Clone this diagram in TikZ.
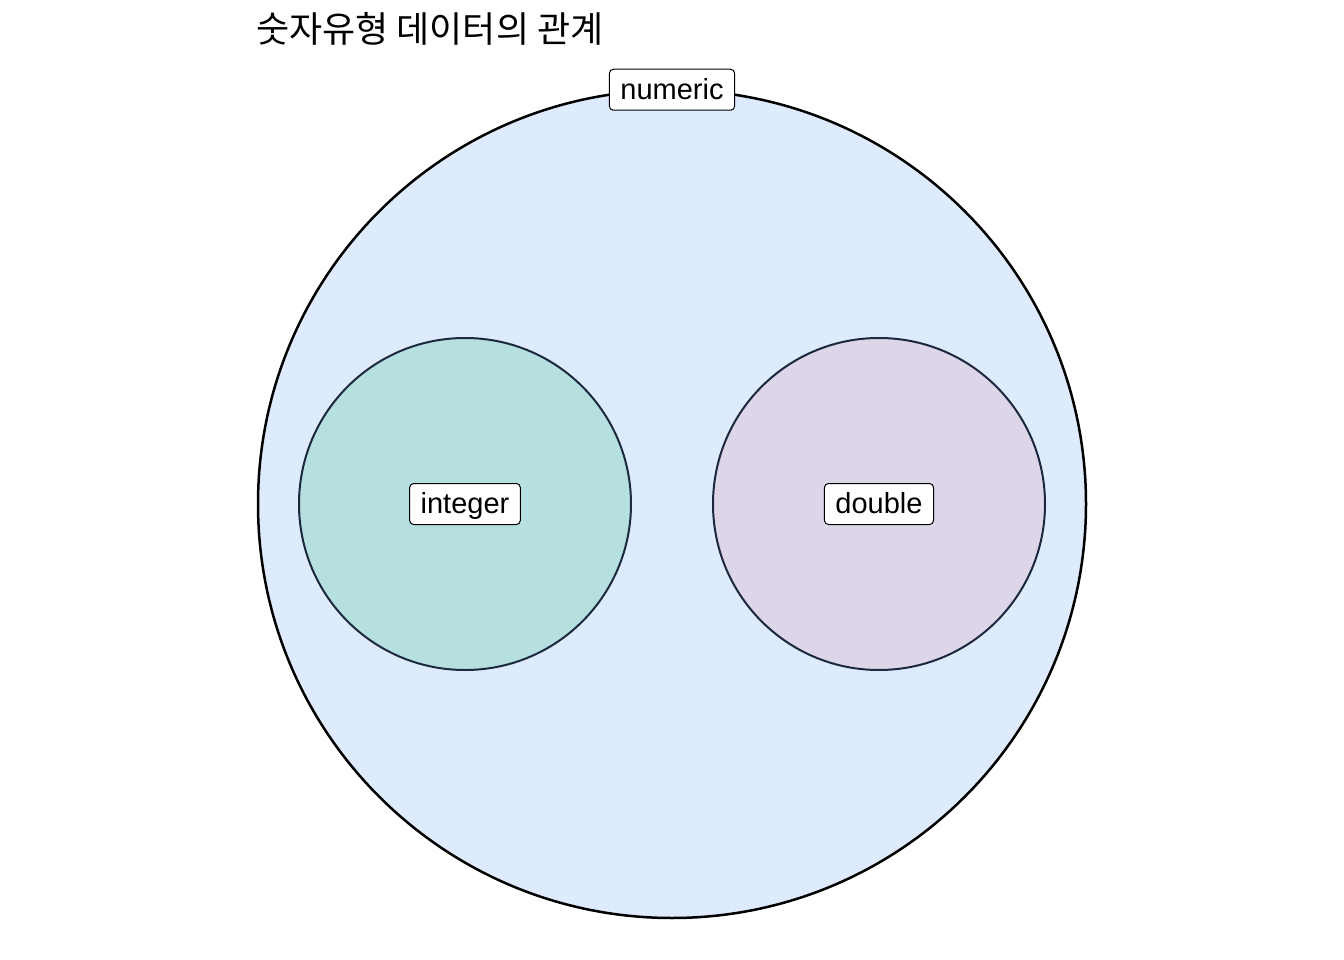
\documentclass[tikz,border=0pt]{standalone}
\usepackage{fontspec}
\setmainfont{Liberation Sans}
\newfontfamily\kofont{Noto Sans CJK KR}
\usepackage{xcolor}
\definecolor{numfill}{RGB}{222,234,254}
\definecolor{intfill}{RGB}{182,224,224}
\definecolor{dblfill}{RGB}{221,213,232}
\definecolor{setline}{RGB}{27,40,62}

\tikzset{
  setcircle/.style={draw=setline, line width=2pt, circle, inner sep=0pt, minimum size=332pt},
  lbl/.style={draw, fill=white, rounded corners=4pt, line width=1pt, inner xsep=11pt,
    inner ysep=0pt, minimum height=41pt, text height=23pt, text depth=4pt,
    font=\fontsize{29}{33}\selectfont}
}

\begin{document}
\begin{tikzpicture}[x=1pt, y=-1pt]
    \useasboundingbox (0,0) rectangle (1344,960);

    \node[anchor=base west, inner sep=0pt, font=\kofont\fontsize{36}{40}\selectfont] (T) at (256,43) {숫자유형 데이터의 관계};

    \node[draw=black, line width=2.5pt, circle, inner sep=0pt, minimum size=828pt, fill=numfill] (N) at (672,504) {};
    \node[setcircle, fill=intfill] (I) at (465,504) {};
    \node[setcircle, fill=dblfill] (D) at (879,504) {};

    \node[lbl] (nlab) at ([yshift=-1pt]N.north) {numeric};
    \node[lbl] (ilab) at (I.center) {integer};
    \node[lbl] (dlab) at (D.center) {double};
  \end{tikzpicture}
\end{document}
